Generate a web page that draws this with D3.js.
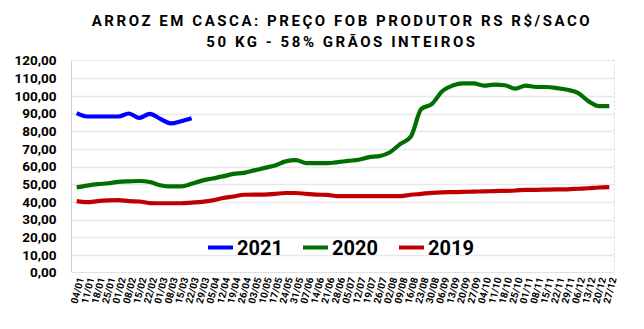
<!DOCTYPE html>
<html><head><meta charset="utf-8">
<script src="https://cdn.jsdelivr.net/npm/d3@7"></script>
<style>body{margin:0;background:#fff}svg{display:block}text{font-family:Roboto,"Liberation Sans",sans-serif}</style>
</head><body><svg id="c" width="644" height="329"></svg>
<script>
const weeks = ["04/01","11/01","18/01","25/01","01/02","08/02","15/02","22/02","01/03","08/03","15/03","22/03","29/03","05/04","12/04","19/04","26/04","03/05","10/05","17/05","24/05","31/05","07/06","14/06","21/06","28/06","05/07","12/07","19/07","26/07","02/08","09/08","16/08","23/08","30/08","06/09","13/09","20/09","27/09","04/10","11/10","18/10","25/10","01/11","08/11","15/11","22/11","29/11","06/12","13/12","20/12","27/12"];
const s2021 = [90.2,88.3,88.3,88.3,88.3,90.0,87.5,89.8,87.0,84.4,85.6,87.3];
const s2020 = [48.2,49.2,50.0,50.5,51.3,51.6,51.8,51.2,49.4,48.7,48.8,50.2,52.0,53.2,54.4,55.8,56.4,57.8,59.2,60.6,62.9,63.6,61.9,61.9,61.9,62.5,63.2,63.8,65.3,65.9,68.1,72.8,77.0,92.6,95.3,102.6,105.8,107.0,107.0,105.8,106.4,106.0,104.1,105.8,105.0,105.0,104.4,103.4,101.7,97.0,94.2,94.2];
const s2019 = [40.4,39.8,40.4,40.8,41.0,40.4,40.2,39.3,39.2,39.2,39.2,39.6,40.0,40.8,42.2,43.0,44.0,44.1,44.1,44.5,45.0,45.0,44.5,44.1,43.9,43.2,43.2,43.2,43.2,43.2,43.2,43.2,44.0,44.5,45.1,45.4,45.5,45.6,45.8,45.9,46.1,46.2,46.4,46.8,46.8,46.9,47.0,47.1,47.4,47.7,48.1,48.3];
const yTicks = [0,10,20,30,40,50,60,70,80,90,100,110,120];
const series = [
  {name:"2021", values:s2021, color:"#0000ff"},
  {name:"2020", values:s2020, color:"#006e00"},
  {name:"2019", values:s2019, color:"#c00000"}
];
const titleLines = ["ARROZ EM CASCA: PREÇO FOB PRODUTOR RS R$/SACO","50 KG - 58% GRÃOS INTEIROS"];

const svg = d3.select("#c");
const L=71.5, R=614.5, T=60.5, B=272.5;
const x = d3.scaleBand().domain(weeks).range([L,R]);
const y = d3.scaleLinear().domain([0,120]).range([B,T]);
const fmt = v => d3.format(".2f")(v).replace(".",",");

// gridlines
svg.append("g").selectAll("line").data(yTicks.filter(v=>v>0 && v<120)).join("line")
  .attr("x1",L).attr("x2",R).attr("y1",d=>Math.round(y(d))+0.5).attr("y2",d=>Math.round(y(d))+0.5)
  .attr("stroke","#e8e8e8").attr("stroke-width",1.5);
// border
svg.append("line").attr("x1",L).attr("x2",R).attr("y1",T).attr("y2",T).attr("stroke","#d9d9d9").attr("stroke-dasharray","2,2");
svg.append("line").attr("x1",R).attr("x2",R).attr("y1",T).attr("y2",B).attr("stroke","#d9d9d9").attr("stroke-dasharray","2,2");
svg.append("line").attr("x1",L).attr("x2",L).attr("y1",T).attr("y2",B).attr("stroke","#d4d4d4").attr("stroke-width",1);
svg.append("line").attr("x1",L).attr("x2",R).attr("y1",B).attr("y2",B).attr("stroke","#e0e0e0").attr("stroke-width",1);

// y axis
const yAxis = d3.axisLeft(y).tickValues(yTicks).tickFormat(fmt).tickSize(0).tickPadding(15);
const ya = svg.append("g").attr("transform",`translate(${L},0)`).call(yAxis);
ya.select(".domain").remove();
ya.selectAll("text").attr("font-size",13.5).attr("font-weight","bold").attr("fill","#000").attr("font-family","Roboto");

// x axis
const xAxis = d3.axisBottom(x).tickSize(0).tickPadding(0);
const xa = svg.append("g").attr("transform",`translate(0,${B})`).call(xAxis);
xa.select(".domain").remove();
xa.selectAll("text").attr("font-size",10).attr("font-weight","bold").attr("fill","#000")
  .attr("text-anchor","end").attr("dy","0.35em")
  .attr("transform","translate(4,5) rotate(-75)");

// lines
const line = d3.line().x((d,i)=>x(weeks[i])+x.bandwidth()/2).y(d=>y(d)).curve(d3.curveMonotoneX);
svg.append("g").selectAll("path").data(series.slice().reverse()).join("path")
  .attr("d",d=>line(d.values)).attr("fill","none").attr("stroke",d=>d.color)
  .attr("stroke-width",4.2).attr("stroke-linejoin","round");

// legend
const lg = svg.append("g");
const legX = [208,303,399];
series.forEach((s,i)=>{
  lg.append("line").attr("x1",legX[i]).attr("x2",legX[i]+25).attr("y1",247.5).attr("y2",247.5).attr("stroke",s.color).attr("stroke-width",4);
  lg.append("text").attr("x",legX[i]+29).attr("y",254.5).attr("font-size",20).attr("font-weight","bold").attr("fill","#000").text(s.name);
});

// title
svg.append("g").selectAll("text").data(titleLines).join("text")
  .attr("x",342).attr("y",(d,i)=>26+i*21).attr("text-anchor","middle")
  .attr("font-size",15).attr("font-weight","bold").attr("letter-spacing","2.55px").attr("fill","#000").text(d=>d);
</script></body></html>
